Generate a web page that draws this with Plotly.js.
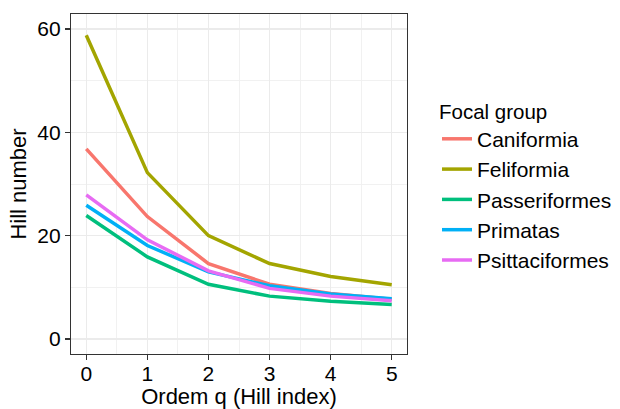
<!DOCTYPE html>
<html>
<head>
<meta charset="utf-8">
<script src="https://cdn.plot.ly/plotly-3.0.1.min.js"></script>
<style>html,body{margin:0;padding:0;background:#fff;}#chart{width:620px;height:409px;}</style>
</head>
<body>
<div id="chart"></div>
<script>
var orders = [0, 1, 2, 3, 4, 5];
var groups = ["Caniformia", "Feliformia", "Passeriformes", "Primatas", "Psittaciformes"];
var caniformia = [36.8, 23.7, 14.6, 10.6, 8.8, 7.7];
var feliformia = [58.8, 32.2, 20.0, 14.6, 12.1, 10.5];
var passeriformes = [23.9, 15.9, 10.6, 8.3, 7.3, 6.7];
var primatas = [25.9, 18.1, 13.0, 10.3, 8.7, 7.8];
var psittaciformes = [27.9, 19.2, 13.2, 9.8, 8.3, 7.4];
var seriesValues = [caniformia, feliformia, passeriformes, primatas, psittaciformes];
var colors = ["#F8766D", "#A3A500", "#00BF7D", "#00B0F6", "#E76BF3"];

var FONT = "Liberation Sans, Arial, sans-serif";
var traces = groups.map(function (g, i) {
  return {
    x: orders, y: seriesValues[i], name: g, type: "scatter", mode: "lines",
    line: {color: colors[i], width: 3.5}, hoverinfo: "skip"
  };
});

var layout = {
  width: 620, height: 409,
  margin: {l: 71, r: 213, t: 14, b: 55},
  paper_bgcolor: "#fff", plot_bgcolor: "#fff",
  font: {family: FONT, size: 21, color: "#000"},
  showlegend: true,
  legend: {
    xref: "container", yref: "container",
    x: 437 / 620, xanchor: "left", y: 1 - 92 / 409, yanchor: "top",
    title: {text: "Focal group", font: {size: 20.5, family: FONT, color: "#000"}},
    font: {size: 21, family: FONT, color: "#000"},
    bgcolor: "rgba(0,0,0,0)", borderwidth: 0, tracegroupgap: 0
  },
  xaxis: {
    range: [-0.25, 5.25], tickmode: "linear", tick0: 0, dtick: 1,
    showgrid: true, gridcolor: "#EBEBEB", gridwidth: 1.2,
    minor: {dtick: 0.5, showgrid: true, gridcolor: "#EFEFEF", gridwidth: 0.9},
    zeroline: false, showline: true, mirror: true, linecolor: "#333333", linewidth: 1.2,
    ticks: "outside", ticklen: 5, tickcolor: "#333333", tickwidth: 1.2,
    ticklabelstandoff: -4,
    tickfont: {size: 21, color: "#000"},
    title: {text: "Ordem q (Hill index)", font: {size: 22, color: "#000"}, standoff: 2}
  },
  yaxis: {
    range: [-2.9, 62.9], tickmode: "array", tickvals: [0, 20, 40, 60],
    showgrid: true, gridcolor: "#EBEBEB", gridwidth: 1.2,
    minor: {tickvals: [10, 30, 50], showgrid: true, gridcolor: "#EFEFEF", gridwidth: 0.9},
    zeroline: false, showline: true, mirror: true, linecolor: "#333333", linewidth: 1.2,
    ticks: "outside", ticklen: 5, tickcolor: "#333333", tickwidth: 1.2,
    tickfont: {size: 21, color: "#000"},
    title: {text: "Hill number", font: {size: 22, color: "#000"}, standoff: 4}
  }
};

Plotly.newPlot("chart", traces, layout, {displayModeBar: false, staticPlot: true});
</script>
</body>
</html>
